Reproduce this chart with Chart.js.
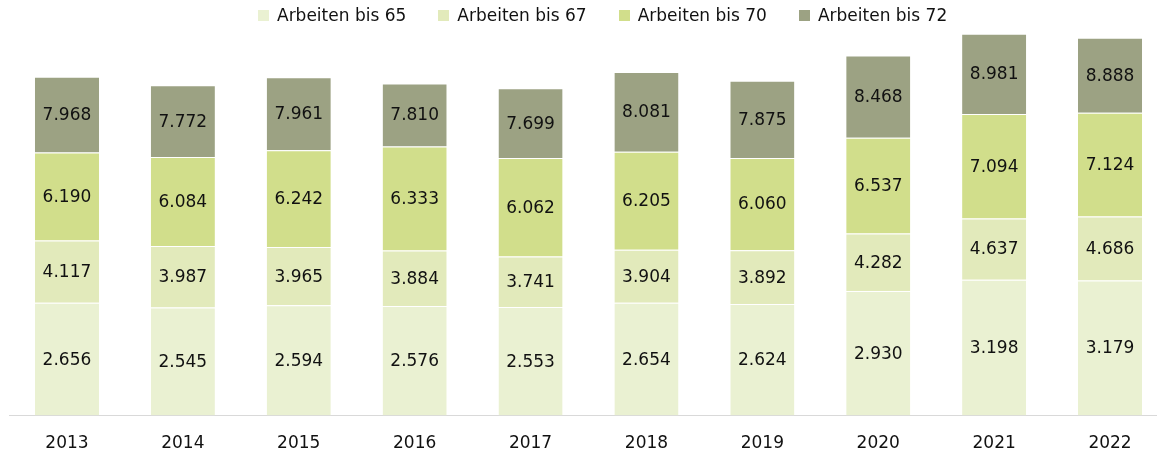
<!DOCTYPE html>
<html>
<head>
<meta charset="utf-8">
<script src="https://cdn.jsdelivr.net/npm/chart.js@4"></script>
<style>
  html, body { margin: 0; padding: 0; background: #fff; overflow: hidden; }
  #wrap { position: relative; width: 1170px; height: 454px; }
  #legend {
    position: absolute; left: 258px; top: 4px; height: 22px;
    display: flex; align-items: center; gap: 32px;
    font-family: "DejaVu Sans", sans-serif; font-size: 17px; color: #111;
  }
  #legend .item { display: flex; align-items: center; }
  #legend .box { width: 11px; height: 11px; margin-right: 8px; }
</style>
</head>
<body>
<div id="wrap">
  <div id="legend"></div>
  <canvas id="myChart"></canvas>
</div>
<script>
// years on the x axis
const years = ["2013", "2014", "2015", "2016", "2017", "2018", "2019", "2020", "2021", "2022"];

// cumulative values as printed in each segment
const bis65 = [2656, 2545, 2594, 2576, 2553, 2654, 2624, 2930, 3198, 3179];
const bis67 = [4117, 3987, 3965, 3884, 3741, 3904, 3892, 4282, 4637, 4686];
const bis70 = [6190, 6084, 6242, 6333, 6062, 6205, 6060, 6537, 7094, 7124];
const bis72 = [7968, 7772, 7961, 7810, 7699, 8081, 7875, 8468, 8981, 8888];

const seriesNames = ["Arbeiten bis 65", "Arbeiten bis 67", "Arbeiten bis 70", "Arbeiten bis 72"];
const colors = ["#eaf1d2", "#e2eabb", "#d1de8b", "#9ca283"];

const series = [bis65, bis67, bis70, bis72];

// each segment floats from the previous cumulative value to its own
const datasets = series.map((vals, i) => ({
    label: seriesNames[i],
    data: vals.map((v, j) => [i === 0 ? 0 : series[i - 1][j], v]),
    backgroundColor: colors[i],
    borderColor: "rgba(255,255,255,0.6)",
    borderWidth: {top: 1, bottom: 0, left: 0, right: 0},
    borderSkipped: false,
    categoryPercentage: 1,
    barPercentage: 0.553
}));

const fontFamily = "'DejaVu Sans', sans-serif";

// simple html legend
const legendEl = document.getElementById("legend");
seriesNames.forEach((name, i) => {
    const item = document.createElement("div");
    item.className = "item";
    const box = document.createElement("span");
    box.className = "box";
    box.style.background = colors[i];
    const txt = document.createElement("span");
    txt.textContent = name;
    item.appendChild(box);
    item.appendChild(txt);
    legendEl.appendChild(item);
});

// draw the printed value in the middle of each segment
const segmentLabels = {
    id: "segmentLabels",
    afterDatasetsDraw(chart) {
        const ctx = chart.ctx;
        ctx.save();
        ctx.fillStyle = "#111";
        ctx.font = "17px " + fontFamily;
        ctx.textAlign = "center";
        ctx.textBaseline = "middle";
        chart.data.datasets.forEach((ds, i) => {
            const meta = chart.getDatasetMeta(i);
            meta.data.forEach((bar, j) => {
                const v = series[i][j];
                ctx.fillText(v.toLocaleString("de-DE"), bar.x, (bar.y + bar.base) / 2 + 1);
            });
        });
        ctx.restore();
    }
};

new Chart(document.getElementById("myChart"), {
    type: "bar",
    data: { labels: years, datasets: datasets },
    plugins: [segmentLabels],
    options: {
        responsive: true,
        maintainAspectRatio: false,
        animation: false,
        grouped: false,
        layout: { padding: { left: 9, right: 2, top: 33, bottom: -10 } },
        plugins: {
            legend: { display: false },
            tooltip: { enabled: false }
        },
        scales: {
            x: {
                grid: { display: false },
                border: { display: true, color: "#d9d9d9" },
                ticks: { color: "#111", padding: 10, font: { family: fontFamily, size: 17 } }
            },
            y: {
                display: false,
                min: 0,
                max: 9000
            }
        }
    }
});
</script>
</body>
</html>
